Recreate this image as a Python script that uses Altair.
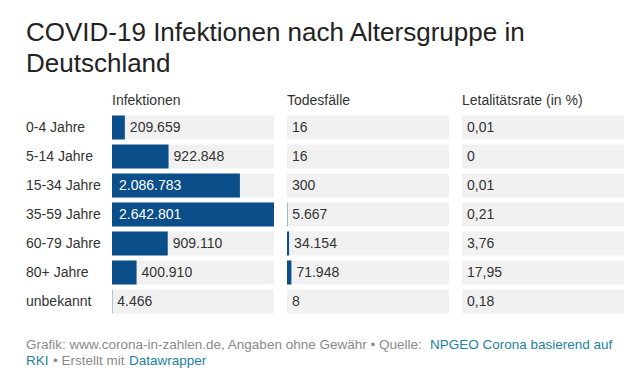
import altair as alt
import pandas as pd

# ---- data -------------------------------------------------------------
groups = ["0-4 Jahre", "5-14 Jahre", "15-34 Jahre", "35-59 Jahre",
          "60-79 Jahre", "80+ Jahre", "unbekannt"]
infektionen = [209659, 922848, 2086783, 2642801, 909110, 400910, 4466]
todesfaelle = [16, 16, 300, 5667, 34154, 71948, 8]
letalitaet = [0.01, 0.0, 0.01, 0.21, 3.76, 17.95, 0.18]
headers = ["Infektionen", "Todesfälle", "Letalitätsrate (in %)"]
title_lines = ["COVID-19 Infektionen nach Altersgruppe in", "Deutschland"]
footer_gray_1 = "Grafik: www.corona-in-zahlen.de, Angaben ohne Gewähr • Quelle:"
footer_link_1 = "NPGEO Corona basierend auf"
footer_link_2 = "RKI"
footer_gray_2 = "• Erstellt mit"
footer_link_3 = "Datawrapper"


def de_int(v):
    return f"{v:,}".replace(",", ".")


def de_dec(v):
    return ("%g" % v).replace(".", ",")


df = pd.DataFrame({"group": groups, "inf": infektionen,
                   "tod": todesfaelle, "let": letalitaet})
df["inf_lbl"] = df["inf"].map(de_int)
df["tod_lbl"] = df["tod"].map(de_int)
df["let_lbl"] = df["let"].map(de_dec)
xmax = max(infektionen)
df["inside"] = df["inf"] > 0.5 * xmax

# ---- style ------------------------------------------------------------
FONT = "Liberation Sans"
BAR = "#0b4f8a"
BG = "#f1f1f1"
TXT = "#333333"
GRAY = "#8a8a8a"
LINK = "#1d81a2"
W = 162
H = 203
FS = 14

yenc = alt.Y("group:N", sort=groups, axis=None,
             scale=alt.Scale(paddingInner=5 / 29, paddingOuter=2.5 / 29))
xscale = alt.Scale(domain=[0, xmax])
base = alt.Chart(df)


def head(t):
    return alt.TitleParams(t, anchor="start", fontSize=FS, fontWeight="normal",
                           font=FONT, color=TXT, offset=5)


def bg():
    return base.mark_rect(color=BG).encode(y=yenc, x=alt.value(0), x2=alt.value(W))


def txt(**kw):
    return dict(align="left", baseline="middle", fontSize=FS, font=FONT, **kw)


labels = base.mark_text(**txt(color=TXT)).encode(
    x=alt.value(0), y=yenc, text="group:N"
).properties(width=73, height=H, title=head(" "))

col1 = alt.layer(
    bg(),
    base.mark_bar(color=BAR).encode(
        x=alt.X("inf:Q", scale=xscale, axis=None), y=yenc),
    base.transform_filter("!datum.inside").mark_text(**txt(color=TXT, dx=5)).encode(
        x=alt.X("inf:Q", scale=xscale, axis=None), y=yenc, text="inf_lbl:N"),
    base.transform_filter("datum.inside").mark_text(**txt(color="white", dx=7)).encode(
        x=alt.value(0), y=yenc, text="inf_lbl:N"),
).properties(width=W, height=H, title=head(headers[0]))

col2 = alt.layer(
    bg(),
    base.mark_bar(color=BAR).encode(
        x=alt.X("tod:Q", scale=xscale, axis=None), y=yenc),
    base.mark_text(**txt(color=TXT, dx=5)).encode(
        x=alt.X("tod:Q", scale=xscale, axis=None), y=yenc, text="tod_lbl:N"),
).properties(width=W, height=H, title=head(headers[1]))

col3 = alt.layer(
    bg(),
    base.mark_text(**txt(color=TXT, dx=5)).encode(
        x=alt.value(0), y=yenc, text="let_lbl:N"),
).properties(width=W, height=H, title=head(headers[2]))

table = alt.hconcat(labels, col1, col2, col3, spacing=13, bounds="flush")

one = alt.Chart(pd.DataFrame({"a": [0]}))
FFS = 13.5


def ftxt(t, color, x, y):
    return one.mark_text(text=t, color=color, align="left", baseline="alphabetic",
                         fontSize=FFS, font=FONT).encode(x=alt.value(x), y=alt.value(y))


footer = alt.layer(
    ftxt(footer_gray_1, GRAY, 0, 33),
    ftxt(footer_link_1, LINK, 404, 33),
    ftxt(footer_link_2, LINK, 0, 49),
    ftxt(footer_gray_2, GRAY, 27, 49),
    ftxt(footer_link_3, LINK, 103, 49),
).properties(width=596, height=56)

chart = alt.vconcat(table, footer, spacing=0).properties(
    title=alt.TitleParams(title_lines, anchor="start", fontSize=26, font=FONT,
                          fontWeight="normal", color="#222222", lineHeight=31,
                          offset=17),
    padding={"left": 18, "top": 12, "right": 5, "bottom": 0},
    background="white",
).configure_view(stroke=None)

chart.save("out.html", embed_options={"renderer": "svg", "actions": False})
